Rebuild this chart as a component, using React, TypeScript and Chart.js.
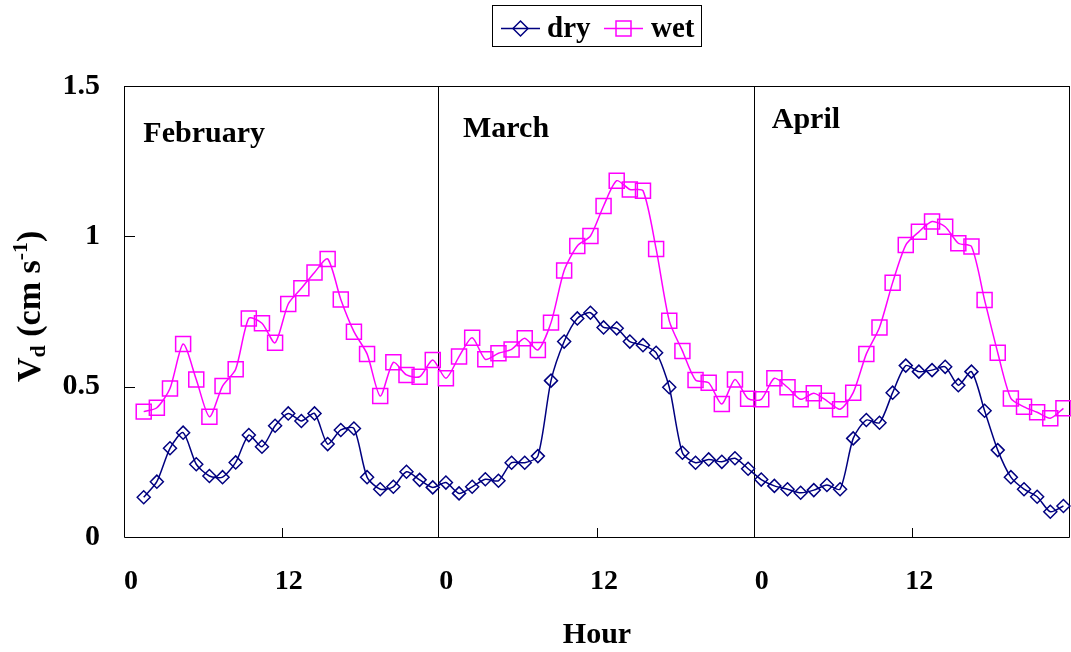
import React, { useEffect, useRef } from 'react';
import { Chart, registerables } from 'chart.js';

Chart.register(...registerables);

// x positions (hours across the three months)
const hours = [
  1.5, 2.5, 3.5, 4.5, 5.5, 6.5, 7.5, 8.5, 9.5, 10.5, 11.5, 12.5, 13.5, 14.5, 15.5, 16.5, 17.5, 18.5, 19.5, 20.5, 21.5, 22.5, 23.5,
  24.5, 25.5, 26.5, 27.5, 28.5, 29.5, 30.5, 31.5, 32.5, 33.5, 34.5, 35.5, 36.5, 37.5, 38.5, 39.5, 40.5, 41.5, 42.5, 43.5, 44.5, 45.5, 46.5, 47.5,
  48.5, 49.5, 50.5, 51.5, 52.5, 53.5, 54.5, 55.5, 56.5, 57.5, 58.5, 59.5, 60.5, 61.5, 62.5, 63.5, 64.5, 65.5, 66.5, 67.5, 68.5, 69.5, 70.5, 71.5,
];

const dryFeb = [0.132, 0.184, 0.295, 0.347, 0.242, 0.203, 0.199, 0.248, 0.339, 0.3, 0.37, 0.411, 0.386, 0.411, 0.309, 0.356, 0.361, 0.199, 0.159, 0.167, 0.217, 0.19, 0.165];
const dryMar = [0.181, 0.145, 0.167, 0.192, 0.187, 0.247, 0.247, 0.269, 0.52, 0.65, 0.727, 0.746, 0.697, 0.694, 0.65, 0.638, 0.613, 0.498, 0.28, 0.247, 0.258, 0.25, 0.262, 0.227];
const dryApr = [0.191, 0.17, 0.159, 0.147, 0.156, 0.173, 0.159, 0.328, 0.389, 0.38, 0.48, 0.57, 0.55, 0.555, 0.566, 0.505, 0.55, 0.42, 0.289, 0.199, 0.159, 0.134, 0.084, 0.103];

const wetFeb = [0.417, 0.43, 0.494, 0.642, 0.524, 0.4, 0.502, 0.558, 0.727, 0.711, 0.646, 0.775, 0.827, 0.88, 0.925, 0.79, 0.683, 0.609, 0.469, 0.581, 0.539, 0.533, 0.589];
const wetMar = [0.528, 0.6, 0.663, 0.591, 0.611, 0.624, 0.661, 0.622, 0.713, 0.886, 0.968, 1.001, 1.101, 1.185, 1.156, 1.152, 0.958, 0.719, 0.619, 0.522, 0.513, 0.442, 0.524, 0.46];
const wetApr = [0.458, 0.528, 0.498, 0.458, 0.478, 0.453, 0.425, 0.48, 0.609, 0.697, 0.846, 0.971, 1.015, 1.049, 1.032, 0.977, 0.966, 0.788, 0.613, 0.461, 0.433, 0.415, 0.395, 0.428];

const seriesNames = ['dry', 'wet'];
const monthNames = ['February', 'March', 'April'];
const monthBoundaries = [24, 48, 72];
const xTickLabels = ['0', '12', '0', '12', '0', '12'];
const midDayTicks = [12, 36, 60];
const yTickValues = [0.5, 1, 1.5];

const DRY_COLOR = '#000080';
const WET_COLOR = '#FF00FF';
const FONT = '"Liberation Serif", "Times New Roman", serif';

const dry = [...dryFeb, ...dryMar, ...dryApr];
const wet = [...wetFeb, ...wetMar, ...wetApr];

function drawDiamond(ctx: CanvasRenderingContext2D, x: number, y: number, r: number) {
  ctx.beginPath();
  ctx.moveTo(x, y - r);
  ctx.lineTo(x + r, y);
  ctx.lineTo(x, y + r);
  ctx.lineTo(x - r, y);
  ctx.closePath();
  ctx.stroke();
}

const framePlugin = {
  id: 'frame',
  beforeDatasetsDraw(chart: any) {
    const { ctx, chartArea: ca, scales } = chart;
    const x = scales.x;
    const y = scales.y;
    ctx.save();
    ctx.strokeStyle = '#000';
    ctx.lineWidth = 1;
    // plot box
    ctx.beginPath();
    ctx.rect(Math.round(ca.left) + 0.5, Math.round(ca.top) + 0.5, Math.round(ca.right - ca.left) - 1, Math.round(ca.bottom - ca.top));
    ctx.stroke();
    // month dividers
    monthBoundaries.forEach((b) => {
      const px = Math.round(x.getPixelForValue(b)) - 0.5;
      ctx.beginPath();
      ctx.moveTo(px, ca.top);
      ctx.lineTo(px, ca.bottom);
      ctx.stroke();
    });
    // inside ticks
    midDayTicks.forEach((t) => {
      const px = Math.round(x.getPixelForValue(t)) + 0.5;
      ctx.beginPath();
      ctx.moveTo(px, ca.bottom);
      ctx.lineTo(px, ca.bottom - 9);
      ctx.stroke();
    });
    yTickValues.forEach((v) => {
      const py = Math.round(y.getPixelForValue(v)) + 0.5;
      ctx.beginPath();
      ctx.moveTo(ca.left, py);
      ctx.lineTo(ca.left + 11, py);
      ctx.stroke();
    });
    ctx.restore();
  },
  afterDraw(chart: any) {
    const { ctx, scales } = chart;
    const x = scales.x;
    const y = scales.y;
    ctx.save();
    ctx.fillStyle = '#000';
    ctx.textBaseline = 'alphabetic';

    // month labels
    ctx.font = `bold 30px ${FONT}`;
    ctx.textAlign = 'left';
    const monthPos = [
      [1.47, 1.315],
      [25.8, 1.331],
      [49.3, 1.359],
    ];
    monthNames.forEach((m, i) => {
      ctx.fillText(m, x.getPixelForValue(monthPos[i][0]), y.getPixelForValue(monthPos[i][1]));
    });

    // x title
    ctx.font = `bold 30px ${FONT}`;
    ctx.textAlign = 'center';
    ctx.fillText('Hour', (chart.chartArea.left + chart.chartArea.right) / 2, 643);

    // y title (rotated) V_d (cm s^-1)
    ctx.save();
    ctx.translate(40, 382);
    ctx.rotate(-Math.PI / 2);
    ctx.textAlign = 'left';
    let cx = 0;
    const seg = (t: string, size: number, dy: number) => {
      ctx.font = `bold ${size}px ${FONT}`;
      ctx.fillText(t, cx, dy);
      cx += ctx.measureText(t).width;
    };
    seg('V', 34, 0);
    seg('d', 22, 5);
    seg(' (cm s', 34, 0);
    seg('-1', 22, -13);
    seg(')', 34, 0);
    ctx.restore();

    // legend
    ctx.strokeStyle = '#000';
    ctx.lineWidth = 1;
    ctx.strokeRect(492.5, 5.5, 209, 41);
    const ly = 28.5;
    ctx.lineWidth = 1.5;
    ctx.strokeStyle = DRY_COLOR;
    ctx.beginPath();
    ctx.moveTo(501, ly);
    ctx.lineTo(540, ly);
    ctx.stroke();
    drawDiamond(ctx, 520.5, ly, 7.5);
    ctx.strokeStyle = WET_COLOR;
    ctx.beginPath();
    ctx.moveTo(604, ly);
    ctx.lineTo(643, ly);
    ctx.stroke();
    ctx.strokeRect(616, ly - 7.5, 15, 15);
    ctx.fillStyle = '#000';
    ctx.font = `bold 29px ${FONT}`;
    ctx.textAlign = 'left';
    ctx.fillText(seriesNames[0], 547, 37);
    ctx.fillText(seriesNames[1], 651, 37);
    ctx.restore();
  },
};

export default function App() {
  const canvasRef = useRef<HTMLCanvasElement | null>(null);

  useEffect(() => {
    document.body.style.margin = '0';
    const canvas = canvasRef.current;
    if (!canvas) return;
    const chart = new Chart(canvas, {
      type: 'line',
      data: {
        datasets: [
          {
            label: seriesNames[0],
            data: hours.map((h, i) => ({ x: h, y: dry[i] })),
            borderColor: DRY_COLOR,
            backgroundColor: 'rgba(0,0,0,0)',
            pointBackgroundColor: 'rgba(0,0,0,0)',
            pointBorderColor: DRY_COLOR,
            pointStyle: 'rectRot',
            pointRadius: 6.5,
            pointBorderWidth: 1.5,
            borderWidth: 1.5,
            tension: 0.25,
            clip: false as any,
          },
          {
            label: seriesNames[1],
            data: hours.map((h, i) => ({ x: h, y: wet[i] })),
            borderColor: WET_COLOR,
            backgroundColor: 'rgba(0,0,0,0)',
            pointBackgroundColor: 'rgba(0,0,0,0)',
            pointBorderColor: WET_COLOR,
            pointStyle: 'rect',
            pointRadius: 10.6,
            pointBorderWidth: 1.5,
            borderWidth: 1.5,
            tension: 0.25,
            clip: false as any,
          },
        ],
      },
      options: {
        responsive: false,
        animation: false,
        devicePixelRatio: 1,
        layout: { autoPadding: false, padding: { top: 86, right: 1, left: 0, bottom: 0 } },
        plugins: {
          legend: { display: false },
          tooltip: { enabled: false },
          title: { display: false },
        },
        scales: {
          x: {
            type: 'linear',
            min: 0,
            max: 72,
            grid: { display: false, drawTicks: true, tickLength: 28 },
            border: { display: false },
            afterFit: (s: any) => {
              s.height = 115;
              s.paddingLeft = 0;
              s.paddingRight = 0;
            },
            ticks: {
              stepSize: 12,
              autoSkip: false,
              maxRotation: 0,
              padding: 0,
              labelOffset: 7,
              color: '#000',
              font: { family: FONT, size: 28, weight: 'bold' },
              callback: (_v: any, i: number) => (i < xTickLabels.length ? xTickLabels[i] : ''),
            },
          },
          y: {
            type: 'linear',
            min: 0,
            max: 1.5,
            grid: { display: false, drawTicks: true, tickLength: 24 },
            border: { display: false },
            afterFit: (s: any) => {
              s.width = 124;
              s.paddingTop = 0;
              s.paddingBottom = 0;
            },
            ticks: {
              stepSize: 0.5,
              padding: 0,
              color: '#000',
              font: { family: FONT, size: 30, weight: 'bold' },
              callback: (v: any) => String(v),
            },
          },
        },
      },
      plugins: [framePlugin],
    });
    return () => chart.destroy();
  }, []);

  return (
    <div style={{ width: 1071, height: 652, background: '#fff' }}>
      <canvas ref={canvasRef} width={1071} height={652} style={{ display: 'block', width: 1071, height: 652 }} />
    </div>
  );
}
